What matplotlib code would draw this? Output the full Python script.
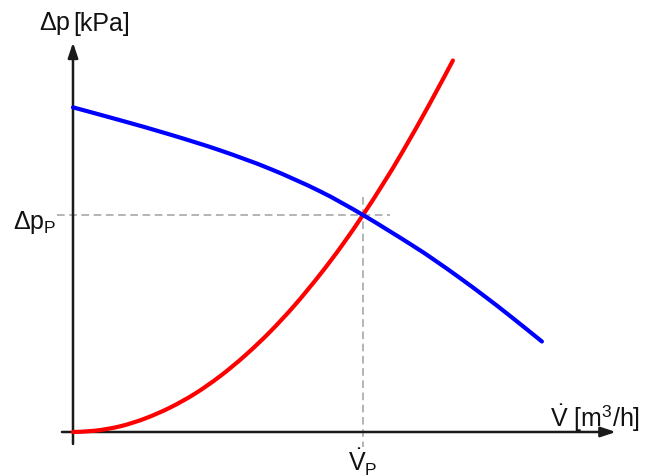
import matplotlib
matplotlib.use("Agg")
import matplotlib.pyplot as plt
from matplotlib.path import Path
from matplotlib.patches import PathPatch

plt.rcParams['font.family'] = ['Liberation Sans', 'DejaVu Sans']
plt.rcParams['mathtext.fontset'] = 'custom'
plt.rcParams['mathtext.rm'] = 'Liberation Sans'
plt.rcParams['mathtext.it'] = 'Liberation Sans'
plt.rcParams['mathtext.bf'] = 'Liberation Sans:bold'

# Pump curve (blue): flow (relative to V_P) vs pressure (relative to dp_P)
pump_v = [0.0, 0.162, 0.334, 0.507, 0.679, 0.852, 1.0, 1.162, 1.248, 1.334, 1.421, 1.507, 1.617]
pump_dp = [1.496, 1.437, 1.371, 1.298, 1.213, 1.109, 1.0, 0.867, 0.791, 0.710, 0.624, 0.535, 0.417]

# System curve (red)
sys_v = [0.0, 0.076, 0.162, 0.248, 0.334, 0.421, 0.507, 0.593, 0.679, 0.765, 0.852, 0.926, 1.0, 1.069, 1.138, 1.231, 1.310]
sys_dp = [0.0, 0.006, 0.026, 0.062, 0.112, 0.177, 0.257, 0.352, 0.461, 0.585, 0.726, 0.857, 1.0, 1.143, 1.295, 1.515, 1.712]

op_v = 1.0
op_dp = 1.0


def smooth_path(xs, ys):
    """Bezier path through the given points (Catmull-Rom tangents)."""
    pts = list(zip(xs, ys))
    n = len(pts)
    verts = [pts[0]]
    codes = [Path.MOVETO]
    for i in range(n - 1):
        p0 = pts[i - 1] if i > 0 else pts[i]
        p1 = pts[i]
        p2 = pts[i + 1]
        p3 = pts[i + 2] if i + 2 < n else pts[i + 1]
        c1 = (p1[0] + (p2[0] - p0[0]) / 6.0, p1[1] + (p2[1] - p0[1]) / 6.0)
        c2 = (p2[0] - (p3[0] - p1[0]) / 6.0, p2[1] - (p3[1] - p1[1]) / 6.0)
        verts += [c1, c2, p2]
        codes += [Path.CURVE4, Path.CURVE4, Path.CURVE4]
    return Path(verts, codes)


fig = plt.figure(figsize=(6.46, 4.77), dpi=100)
ax = fig.add_axes([0, 0, 1, 1])
ax.set_xlim(-0.2517, 1.9759)
ax.set_ylim(-0.2028, 1.9954)
ax.axis('off')

# dashed guide lines
ax.plot([-0.055, 1.093], [op_dp, op_dp], color='#a0a0a0', lw=1.1, dashes=(5, 3), zorder=1)
ax.plot([op_v, op_v], [1.083, -0.069], color='#a0a0a0', lw=1.1, dashes=(5, 3), zorder=1)

# axes with arrows
axis_col = '#1a1a1a'
ax.annotate('', xy=(1.872, 0), xytext=(-0.038, 0),
            arrowprops=dict(arrowstyle='-|>,head_length=0.9,head_width=0.3', color=axis_col, lw=1.8,
                            shrinkA=0, shrinkB=0), zorder=2)
ax.annotate('', xy=(0, 1.795), xytext=(0, -0.055),
            arrowprops=dict(arrowstyle='-|>,head_length=0.9,head_width=0.3', color=axis_col, lw=1.8,
                            shrinkA=0, shrinkB=0), zorder=2)

# curves
ax.add_patch(PathPatch(smooth_path(sys_v, sys_dp), facecolor='none', edgecolor='#ff0000',
                       lw=3.0, capstyle='round', joinstyle='round', zorder=3))
ax.add_patch(PathPatch(smooth_path(pump_v, pump_dp), facecolor='none', edgecolor='#0000ff',
                       lw=3.0, capstyle='round', joinstyle='round', zorder=4))

# labels
fs = 18
col = '#111111'
ax.text(-0.01, 1.886, r'$\Delta\mathrm{p}$', fontsize=fs, ha='right', va='center', color=col)
ax.text(0.0, 1.886, '[kPa]', fontsize=fs, ha='left', va='center', color=col)
ax.text(-0.207, 0.968, r'$\Delta\mathrm{p}_{\mathrm{P}}$', fontsize=fs, ha='left', va='center', color=col)
ax.text(op_v, -0.134, r'$\dot{\mathrm{V}}_{\mathrm{P}}$', fontsize=fs, ha='center', va='center', color=col)
ax.text(1.645, 0.069, r'$\dot{\mathrm{V}}$ [m$^3$/h]', fontsize=fs, ha='left', va='center', color=col)

fig.savefig('out.png', dpi=100)
